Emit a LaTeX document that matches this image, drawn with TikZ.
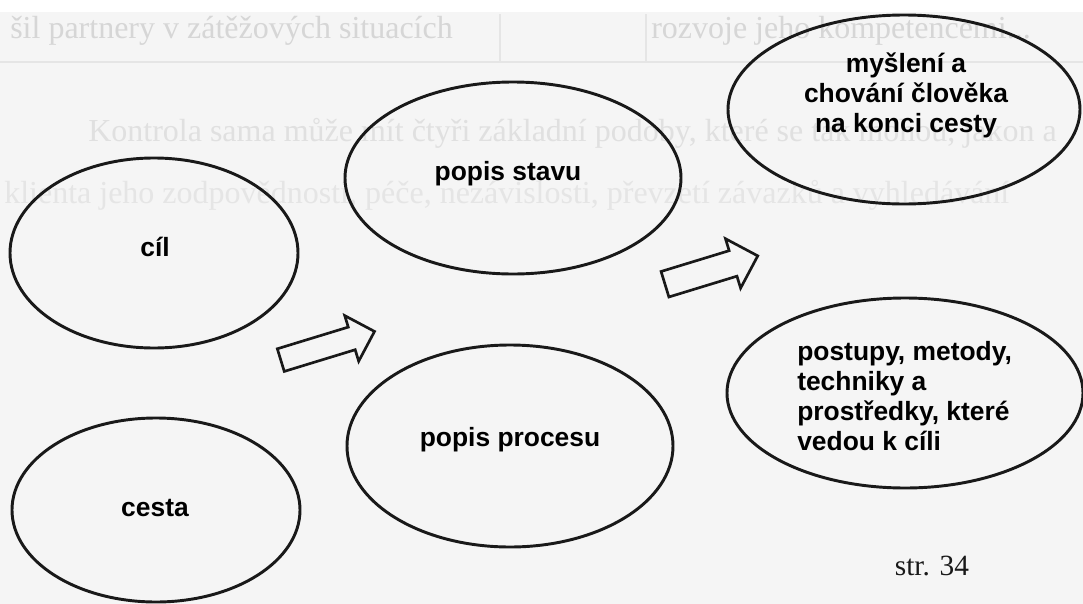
\documentclass[tikz,border=0pt]{standalone}
\usepackage{fontspec}
\setmainfont{Liberation Serif}
\newfontfamily\labelfont{Liberation Sans}
\usetikzlibrary{shapes.geometric,shapes.arrows}
\newdimen\pxu \pxu=0.75pt

\begin{document}
\begin{tikzpicture}[x=0.75pt,y=-0.75pt,
  bubble/.style={ellipse, draw=black!90, line width=2.2pt, inner sep=0pt},
  lbl/.style={font=\labelfont\bfseries\fontsize{19.8}{22.5}\selectfont, inner sep=0pt, text=black},
  ghost/.style={font=\fontsize{24}{28}\selectfont, inner sep=0pt, anchor=west},
  blockarrow/.style={single arrow, draw=black!90, line width=2pt, inner xsep=0pt,
    single arrow tip angle=90, rotate=17},
  pagenum/.style={font=\fontsize{22}{26}\selectfont, inner sep=0pt, text=black!90}
]
% paper
\fill[white] (0,0) rectangle (1083,604);
\fill[black!4] (0,12) rectangle (1083,604);
\useasboundingbox (0,0) rectangle (1083,604);

% text showing through from the other side of the sheet
\node[ghost, text=black!16] (g1) at (10,31) {šil partnery v zátěžových situacích};
\node[ghost, text=black!16] (g2) at (651,31) {rozvoje jeho kompetencemi...};
\draw[black!10, line width=1.2pt] (0,62) -- (1083,62);
\draw[black!10, line width=1.2pt] (500,14) -- (500,62);
\draw[black!10, line width=1.2pt] (646,14) -- (646,62);
\node[ghost, text=black!12] (g3) at (88,133) {Kontrola sama může mít čtyři základní podoby, které se tak mohou, jakon a};
\node[ghost, text=black!10] (g4) at (4,195) {klienta jeho zodpovědnosti, péče, nezávislosti, převzetí závazků a vyhledávání};

% ellipses
\node[bubble, minimum width=288\pxu, minimum height=190\pxu] (cil) at (154,253) {};
\node[bubble, minimum width=288\pxu, minimum height=184\pxu] (cesta) at (156,510) {};
\node[bubble, minimum width=336\pxu, minimum height=192\pxu] (stav) at (513,178) {};
\node[bubble, minimum width=326\pxu, minimum height=202\pxu] (proces) at (510,446) {};
\node[bubble, minimum width=352\pxu, minimum height=189\pxu] (konec) at (904,109.5) {};
\node[bubble, minimum width=356\pxu, minimum height=190\pxu] (postupy) at (905,393) {};

% labels
\node[lbl] (cil-t) at (155,247) {cíl};
\node[lbl] (cesta-t) at (155,508) {cesta};
\node[lbl] (stav-t) at (508,174) {popis stavu};
\node[lbl] (proces-t) at (510,440) {popis procesu};
\node[lbl, align=center] (konec-t) at (906,95) {myšlení a\\chování člověka\\na konci cesty};
\node[lbl, anchor=west, align=left] (postupy-t) at (797,396)
  {postupy, metody,\\techniky a\\prostředky, které\\vedou k cíli};

% block arrows
\node[blockarrow, minimum height=98\pxu, inner ysep=10.5\pxu,
  single arrow head extend=12\pxu] (arr1) at (322,347.5) {};
\node[blockarrow, minimum height=97\pxu, inner ysep=12\pxu,
  single arrow head extend=12.5\pxu] (arr2) at (705,272) {};

% page number
\node[pagenum] (page) at (932,566) {str. 34};
\end{tikzpicture}
\end{document}
